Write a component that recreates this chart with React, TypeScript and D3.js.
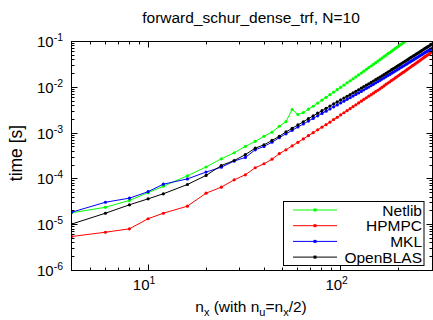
import React from 'react';
import * as d3 from 'd3';

const title = 'forward_schur_dense_trf, N=10';
const yLabel = 'time [s]';

const nx = [4, 6, 8, 10, 12, 16, 20, 24, 28, 32, 36, 40, 44, 48, 52, 56, 60, 64, 68, 72, 76, 80, 84, 88, 92, 96, 100,
  104, 108, 112, 116, 120, 124, 128, 132, 136, 140, 144, 148, 152, 156, 160, 164, 168, 172, 176, 180, 184, 188, 192,
  196, 200, 204, 208, 212, 216, 220, 224, 228, 232, 236, 240, 244, 248, 252, 256, 260, 264, 268, 272, 276, 280, 284,
  288, 292, 296, 300];

const netlib = [1.82e-5, 2.40e-5, 3.39e-5, 5.01e-5, 6.92e-5, 1.17e-4, 1.82e-4, 2.75e-4, 3.72e-4, 5.13e-4, 6.61e-4,
  8.51e-4, 1.05e-3, 1.41e-3, 1.78e-3, 3.27e-3, 2.55e-3, 2.82e-3, 3.33e-3, 3.86e-3, 4.53e-3, 5.24e-3, 6.03e-3, 6.89e-3,
  7.87e-3, 8.87e-3, 1.00e-2, 1.12e-2, 1.25e-2, 1.39e-2, 1.53e-2, 1.69e-2, 1.86e-2, 2.04e-2, 2.25e-2, 2.47e-2, 2.69e-2,
  2.92e-2, 3.18e-2, 3.45e-2, 3.72e-2, 4.03e-2, 4.35e-2, 4.67e-2, 5.04e-2, 5.41e-2, 5.75e-2, 6.17e-2, 6.58e-2, 7.00e-2,
  7.45e-2, 7.94e-2, 8.45e-2, 8.93e-2, 9.46e-2, 0.100, 0.106, 0.112, 0.118, 0.124, 0.131, 0.137, 0.144, 0.151, 0.159,
  0.167, 0.175, 0.184, 0.191, 0.201, 0.209, 0.218, 0.228, 0.237, 0.247, 0.258, 0.269];

const hpmpc = [5.52e-6, 6.85e-6, 8.13e-6, 1.35e-5, 1.78e-5, 2.54e-5, 4.88e-5, 6.61e-5, 9.55e-5, 1.23e-4, 1.75e-4,
  2.14e-4, 2.69e-4, 3.55e-4, 4.32e-4, 5.25e-4, 6.30e-4, 7.46e-4, 8.79e-4, 1.02e-3, 1.18e-3, 1.35e-3, 1.53e-3, 1.73e-3,
  1.97e-3, 2.21e-3, 2.49e-3, 2.78e-3, 3.08e-3, 3.42e-3, 3.77e-3, 4.15e-3, 4.55e-3, 4.98e-3, 5.45e-3, 5.92e-3, 6.40e-3,
  6.90e-3, 7.45e-3, 8.05e-3, 8.63e-3, 9.27e-3, 1.00e-2, 1.07e-2, 1.16e-2, 1.24e-2, 1.32e-2, 1.41e-2, 1.50e-2, 1.60e-2,
  1.70e-2, 1.81e-2, 1.92e-2, 2.03e-2, 2.14e-2, 2.26e-2, 2.39e-2, 2.53e-2, 2.67e-2, 2.81e-2, 2.96e-2, 3.10e-2, 3.26e-2,
  3.42e-2, 3.59e-2, 3.77e-2, 3.95e-2, 4.15e-2, 4.32e-2, 4.54e-2, 4.73e-2, 4.93e-2, 5.14e-2, 5.36e-2, 5.58e-2, 5.82e-2,
  6.05e-2];

const mkl = [1.87e-5, 3.09e-5, 3.80e-5, 5.25e-5, 7.67e-5, 1.00e-4, 1.41e-4, 1.80e-4, 2.45e-4, 2.95e-4, 4.32e-4,
  5.13e-4, 6.31e-4, 7.94e-4, 9.66e-4, 1.15e-3, 1.36e-3, 1.58e-3, 1.83e-3, 2.09e-3, 2.38e-3, 2.69e-3, 3.01e-3, 3.36e-3,
  3.74e-3, 4.13e-3, 4.55e-3, 4.99e-3, 5.45e-3, 5.93e-3, 6.44e-3, 6.98e-3, 7.53e-3, 8.13e-3, 8.81e-3, 9.48e-3, 1.01e-2,
  1.09e-2, 1.16e-2, 1.25e-2, 1.33e-2, 1.41e-2, 1.51e-2, 1.60e-2, 1.71e-2, 1.82e-2, 1.91e-2, 2.03e-2, 2.15e-2, 2.26e-2,
  2.39e-2, 2.52e-2, 2.66e-2, 2.79e-2, 2.92e-2, 3.07e-2, 3.22e-2, 3.38e-2, 3.54e-2, 3.69e-2, 3.87e-2, 4.04e-2, 4.22e-2,
  4.40e-2, 4.58e-2, 4.78e-2, 4.98e-2, 5.19e-2, 5.38e-2, 5.61e-2, 5.82e-2, 6.03e-2, 6.25e-2, 6.47e-2, 6.71e-2, 6.95e-2,
  7.21e-2];

const openblas = [1.03e-5, 1.78e-5, 2.72e-5, 3.67e-5, 4.73e-5, 7.55e-5, 1.19e-4, 1.96e-4, 2.52e-4, 3.39e-4, 4.68e-4,
  5.55e-4, 6.92e-4, 8.51e-4, 1.06e-3, 1.27e-3, 1.51e-3, 1.77e-3, 2.07e-3, 2.37e-3, 2.72e-3, 3.08e-3, 3.47e-3, 3.89e-3,
  4.35e-3, 4.80e-3, 5.30e-3, 5.82e-3, 6.35e-3, 6.93e-3, 7.53e-3, 8.18e-3, 8.85e-3, 9.55e-3, 1.04e-2, 1.11e-2, 1.19e-2,
  1.28e-2, 1.37e-2, 1.47e-2, 1.56e-2, 1.66e-2, 1.77e-2, 1.89e-2, 2.02e-2, 2.15e-2, 2.27e-2, 2.42e-2, 2.55e-2, 2.70e-2,
  2.85e-2, 3.01e-2, 3.18e-2, 3.35e-2, 3.52e-2, 3.70e-2, 3.88e-2, 4.07e-2, 4.29e-2, 4.48e-2, 4.70e-2, 4.91e-2, 5.12e-2,
  5.35e-2, 5.58e-2, 5.82e-2, 6.08e-2, 6.35e-2, 6.59e-2, 6.89e-2, 7.14e-2, 7.41e-2, 7.69e-2, 7.98e-2, 8.28e-2, 8.59e-2,
  8.91e-2];

const seriesNames = ['Netlib', 'HPMPC', 'MKL', 'OpenBLAS'];
const seriesColors = ['#00ff00', '#ff0000', '#0000ff', '#000000'];
const seriesValues = [netlib, hpmpc, mkl, openblas];

const yTickExps = [-1, -2, -3, -4, -5, -6];
const xTickExps = [1, 2];
const xMinorTicks = [5, 6, 7, 8, 9, 20, 30, 40, 50, 60, 70, 80, 90, 200, 300];

const FONT = 'Liberation Sans, Arial, Helvetica, sans-serif';

export default function App() {
  const W = 433, H = 320;
  const L = 71.5, T = 41.5, R = 432.5, B = 270.5;
  const x = d3.scaleLog().domain([4, 300]).range([L, R]);
  const y = d3.scaleLog().domain([1e-6, 1e-1]).range([B, T]);

  const yMinor: number[] = [];
  for (let e = -6; e < -1; e++) for (let k = 2; k <= 9; k++) yMinor.push(k * Math.pow(10, e));

  const line = d3.line<number>().x((_, i) => x(nx[i])).y((d) => y(d));

  const majorLen = 6, minorLen = 3;
  const legendX = 283.5, legendY = 201.5, legendW = 140.5, legendH = 64;
  const rowH = 15.7;

  return (
    <svg width={W} height={H} style={{ position: 'absolute', left: 0, top: 0, background: '#fff' }}
      fontFamily={FONT}>
      <defs>
        <clipPath id="plotclip">
          <rect x={L} y={T} width={R - L} height={B - T} />
        </clipPath>
      </defs>
      <rect x={0} y={0} width={W} height={H} fill="#fff" />
      <text x={251} y={23} textAnchor="middle" fontSize={15.5} fill="#000">{title}</text>

      {/* series */}
      <g clipPath="url(#plotclip)">
        {seriesValues.map((vals, si) => (
          <g key={si}>
            <path d={line(vals) || ''} fill="none" stroke={seriesColors[si]} strokeWidth={1} />
            {vals.map((v, i) => (
              <circle key={i} cx={x(nx[i])} cy={y(v)} r={1.6} fill={seriesColors[si]} />
            ))}
          </g>
        ))}
      </g>

      {/* ticks */}
      <g stroke="#000" strokeWidth={1}>
        {yTickExps.map((e) => {
          const yy = Math.round(y(Math.pow(10, e)) - 0.5) + 0.5;
          return (
            <g key={e}>
              <line x1={L} x2={L + majorLen} y1={yy} y2={yy} />
              <line x1={R} x2={R - majorLen} y1={yy} y2={yy} />
            </g>
          );
        })}
        {yMinor.map((v, i) => {
          const yy = Math.round(y(v) - 0.5) + 0.5;
          return (
            <g key={i}>
              <line x1={L} x2={L + minorLen} y1={yy} y2={yy} />
              <line x1={R} x2={R - minorLen} y1={yy} y2={yy} />
            </g>
          );
        })}
        {xTickExps.map((e) => {
          const xx = Math.round(x(Math.pow(10, e)) - 0.5) + 0.5;
          return (
            <g key={e}>
              <line x1={xx} x2={xx} y1={B} y2={B - majorLen} />
              <line x1={xx} x2={xx} y1={T} y2={T + majorLen} />
            </g>
          );
        })}
        {xMinorTicks.map((v) => {
          const xx = Math.round(x(v) - 0.5) + 0.5;
          return (
            <g key={v}>
              <line x1={xx} x2={xx} y1={B} y2={B - minorLen} />
              <line x1={xx} x2={xx} y1={T} y2={T + minorLen} />
            </g>
          );
        })}
      </g>
      <rect x={L} y={T} width={R - L} height={B - T} fill="none" stroke="#000" strokeWidth={1} />

      {/* y tick labels */}
      {yTickExps.map((e) => (
        <text key={e} x={63} y={y(Math.pow(10, e)) + 5.5} textAnchor="end" fontSize={15} fill="#000">
          10<tspan dy={-6} fontSize={10.5}>{String(e)}</tspan>
        </text>
      ))}
      {/* x tick labels */}
      {xTickExps.map((e) => (
        <text key={e} x={x(Math.pow(10, e)) - 4} y={290} textAnchor="middle" fontSize={15} fill="#000">
          10<tspan dy={-6} fontSize={10.5}>{String(e)}</tspan>
        </text>
      ))}

      {/* axis labels */}
      <text transform={`translate(22, ${(T + B) / 2 - 3}) rotate(-90)`} textAnchor="middle" fontSize={17.5} fill="#000">
        {yLabel}
      </text>
      <text x={251} y={312} textAnchor="middle" fontSize={15.5} fill="#000">
        n<tspan dy={4} fontSize={11}>x</tspan>
        <tspan dy={-4}> (with n</tspan>
        <tspan dy={4} fontSize={11}>u</tspan>
        <tspan dy={-4}>=n</tspan>
        <tspan dy={4} fontSize={11}>x</tspan>
        <tspan dy={-4}>/2)</tspan>
      </text>

      {/* legend */}
      <rect x={legendX} y={legendY} width={legendW} height={legendH} fill="#fff" stroke="#000" strokeWidth={1} />
      {seriesNames.map((name, i) => {
        const cy = legendY + 8.5 + i * rowH;
        return (
          <g key={name}>
            <line x1={293} x2={337} y1={cy} y2={cy} stroke={seriesColors[i]} strokeWidth={1} />
            <rect x={313.5} y={cy - 1.5} width={3} height={3} fill={seriesColors[i]} />
            <text x={422} y={cy + 5.5} textAnchor="end" fontSize={15.5} fill="#000">{name}</text>
          </g>
        );
      })}
    </svg>
  );
}
